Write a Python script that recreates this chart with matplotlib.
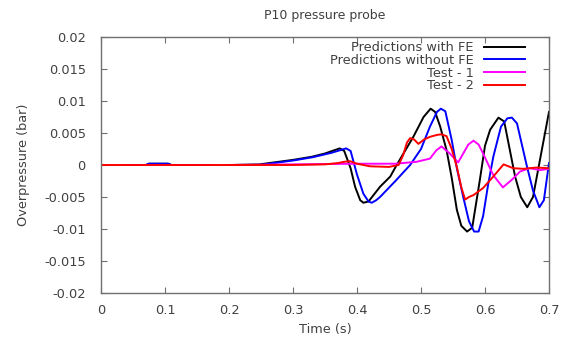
import numpy as np
import matplotlib
matplotlib.use("Agg")
import matplotlib.pyplot as plt

nan = np.nan

# Predictions with FE (black)
t_fe = [0.04, 0.07, 0.075, 0.105, 0.11, 0.17, nan, 0.2, 0.248, 0.27, 0.3, 0.33, 0.35, 0.373, 0.38, 0.39,
        0.397, 0.405, 0.41, 0.418, 0.436, 0.452, 0.462, 0.488, 0.504, 0.515, 0.522, 0.53, 0.54, 0.548,
        0.556, 0.563, 0.572, 0.58, 0.592, 0.6, 0.608, 0.621, 0.63, 0.647, 0.656, 0.666, 0.675, 0.69, 0.7]
v_fe = [0, 0, 0.0002, 0.0002, 0, 0, nan, 0, 0.0001, 0.0004, 0.0008, 0.0013, 0.0018, 0.0026, 0.0022, -0.0005,
        -0.0034, -0.0055, -0.0059, -0.0057, -0.0034, -0.0018, 0.0, 0.0044, 0.0075, 0.0088, 0.0083, 0.006, 0.0023, -0.002,
        -0.007, -0.0095, -0.0104, -0.0098, -0.0023, 0.003, 0.0055, 0.0074, 0.0068, -0.0018, -0.005, -0.0066, -0.005, 0.003, 0.0083]

# Predictions without FE (blue)
t_nofe = [0.04, 0.07, 0.075, 0.105, 0.11, 0.17, nan, 0.2, 0.25, 0.27, 0.3, 0.33, 0.36, 0.383, 0.39, 0.4,
          0.41, 0.418, 0.423, 0.43, 0.436, 0.46, 0.483, 0.5, 0.514, 0.525, 0.531, 0.538, 0.548, 0.556,
          0.566, 0.575, 0.583, 0.59, 0.597, 0.605, 0.613, 0.625, 0.635, 0.642, 0.65, 0.665, 0.675, 0.685, 0.692, 0.7]
v_nofe = [0, 0, 0.0002, 0.0002, 0, 0, nan, 0, 0, 0.0003, 0.0007, 0.0012, 0.0019, 0.0026, 0.0022, -0.0015,
          -0.0045, -0.0057, -0.0059, -0.0055, -0.005, -0.0025, 0.0, 0.0025, 0.006, 0.0083, 0.0088, 0.0084, 0.0039, -0.0005,
          -0.005, -0.0088, -0.0104, -0.0104, -0.008, -0.003, 0.0013, 0.006, 0.0073, 0.0074, 0.0065, 0.0, -0.004, -0.0066, -0.0055, 0.0003]

# Test - 1 (magenta)
t_test1 = [0.04, 0.17, nan, 0.2, 0.3, 0.4, 0.46, 0.493, 0.514, 0.524, 0.532, 0.545, 0.558, 0.566, 0.574,
           0.582, 0.59, 0.597, 0.613, 0.628, 0.642, 0.655, 0.67, 0.686, 0.7]
v_test1 = [0, 0, nan, 0, 0.0001, 0.0002, 0.0002, 0.0005, 0.001, 0.0023, 0.0029, 0.0018, 0.0004, 0.0018, 0.0032,
           0.0038, 0.0032, 0.0018, -0.0016, -0.0035, -0.0023, -0.001, -0.0005, -0.0008, -0.0006]

# Test - 2 (red)
t_test2 = [0, 0.2, 0.3, 0.35, 0.37, 0.38, 0.389, 0.4, 0.42, 0.45, 0.465, 0.472, 0.478, 0.483, 0.489, 0.496,
           0.505, 0.514, 0.525, 0.532, 0.54, 0.548, 0.556, 0.563, 0.569, 0.575, 0.582, 0.597, 0.613, 0.629,
           0.644, 0.66, 0.68, 0.7]
v_test2 = [0, 0, 0, 0.0001, 0.0003, 0.0005, 0.0006, 0.0002, -0.0002, -0.0003, 0, 0.0015, 0.0035, 0.0042, 0.004, 0.0033,
           0.004, 0.0044, 0.0047, 0.0048, 0.0045, 0.0025, -0.0003, -0.0035, -0.0054, -0.005, -0.0047, -0.0036, -0.0018, 0.0001,
           -0.0005, -0.0006, -0.0004, -0.0005]

x_ticks = [0, 0.1, 0.2, 0.3, 0.4, 0.5, 0.6, 0.7]
x_ticklabels = ["0", "0.1", "0.2", "0.3", "0.4", "0.5", "0.6", "0.7"]
y_ticks = [-0.02, -0.015, -0.01, -0.005, 0, 0.005, 0.01, 0.015, 0.02]
y_ticklabels = ["-0.02", "-0.015", "-0.01", "-0.005", "0", "0.005", "0.01", "0.015", "0.02"]

fig = plt.figure(figsize=(5.66, 3.38), dpi=100)
ax = fig.add_axes([101/566, 1-293/338, 448/566, 256/338])

lw = 1.4
ax.plot(t_fe, v_fe, color="black", lw=lw, label="Predictions with FE")
ax.plot(t_nofe, v_nofe, color="#0000ff", lw=lw, label="Predictions without FE")
ax.plot(t_test1, v_test1, color="#ff00ff", lw=lw, label="Test - 1")
ax.plot(t_test2, v_test2, color="#ff0000", lw=lw, label="Test - 2")

ax.set_xlim(0, 0.7)
ax.set_ylim(-0.02, 0.02)
ax.set_xticks(x_ticks)
ax.set_xticklabels(x_ticklabels)
ax.set_yticks(y_ticks)
ax.set_yticklabels(y_ticklabels)

tc = "#404040"
fs = 9.3
for s in ax.spines.values():
    s.set_color("#707070")
    s.set_linewidth(1.0)
ax.tick_params(direction="in", top=True, right=True, length=4, width=0.8,
               color="#707070", labelcolor=tc, labelsize=fs, pad=8)
ax.tick_params(axis="y", pad=11)

ax.set_title("P10 pressure probe", fontsize=9, color=tc, pad=13)
ax.set_xlabel("Time (s)", fontsize=fs, color=tc, labelpad=4)
ax.set_ylabel("Overpressure (bar)", fontsize=fs, color=tc, labelpad=10)

leg = ax.legend(loc="upper right", bbox_to_anchor=(0.964, 1.014), frameon=False, markerfirst=False,
                fontsize=fs, handlelength=3.2, handletextpad=0.8, labelspacing=-0.02,
                borderaxespad=0.2)
for t in leg.get_texts():
    t.set_color(tc)
    t.set_ha("right")
for vp in leg._legend_box.get_children()[1].get_children():
    vp.align = "right"

fig.savefig("out.png", dpi=100)
